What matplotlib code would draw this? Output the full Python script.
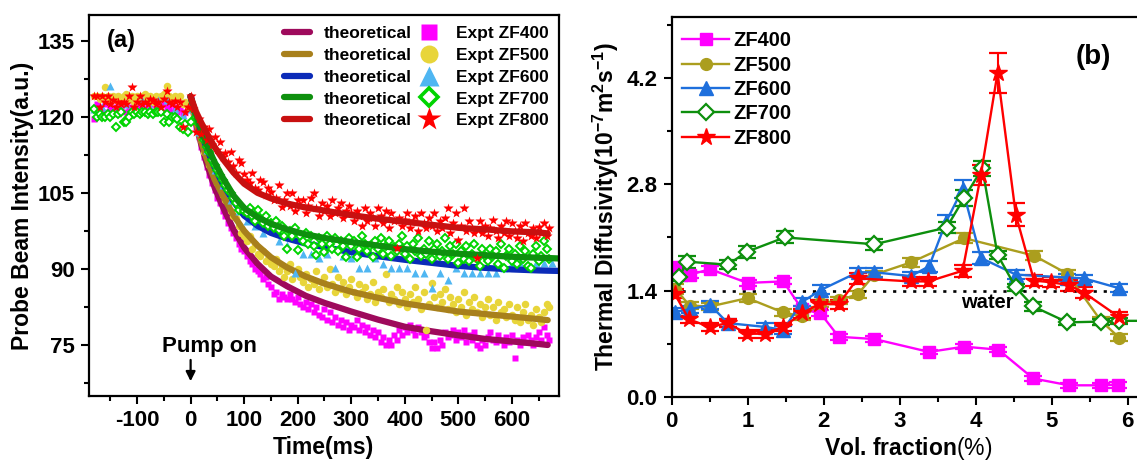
import numpy as np
import matplotlib
matplotlib.use('Agg')
import matplotlib.pyplot as plt
from matplotlib.lines import Line2D
from matplotlib.ticker import MultipleLocator, FormatStrFormatter

plt.rcParams['font.family'] = ['Liberation Sans', 'DejaVu Sans']
plt.rcParams['font.weight'] = 'bold'
plt.rcParams['axes.labelweight'] = 'bold'
plt.rcParams['axes.unicode_minus'] = False
plt.rcParams['mathtext.fontset'] = 'custom'
plt.rcParams['mathtext.rm'] = 'Liberation Sans:weight=bold'
plt.rcParams['mathtext.bf'] = 'Liberation Sans:weight=bold'
plt.rcParams['mathtext.sf'] = 'Liberation Sans:weight=normal'

# ---------------- panel (a): probe beam intensity vs time ----------------
# experimental points, sampled every 5 ms starting at -180 ms
exp_t0 = -180
exp_dt = 5
# ZF600 triangles are sparser in the picture
exp_dt_600 = 15

expt_400 = [119.5, 122.5, 122, 121, 122.5, 121, 122, 121.5, 122, 120.5,
            121.5, 122.5, 121, 122, 121.5, 122.5, 121, 122, 122.5, 121.5,
            122, 121, 122.5, 121.5, 122, 121, 122.5, 121.5, 122, 121,
            122, 121, 121.5, 120.5, 121, 122, 123.5,
            121, 118, 116, 114, 112, 110, 108.5, 107, 105.5, 104,
            103, 101.5, 100.5, 99, 98, 97, 96, 95, 94, 93.5,
            92.5, 91.5, 91, 90, 89.5, 89, 88, 88.5, 87, 86.5,
            85, 85.5, 84, 85, 84.5, 84, 85, 84, 83.5, 84.5,
            83, 82.5, 83.5, 82, 83, 81.5, 82.5, 81, 80.5, 82,
            80, 81.5, 79.5, 80.5, 79, 80, 78.5, 79.5, 78, 79,
            78.5, 80, 78, 79, 77.5, 78.5, 77, 78, 76.5, 77.5,
            75.5, 76.5, 75, 76, 75, 77, 76, 78, 77, 78.5,
            77.5, 79, 78, 77, 78.5, 77.5, 76.5, 77, 75.5, 74.5,
            75.5, 74.5, 76, 75, 77.5, 76.5, 77, 78, 76, 77.5,
            76.5, 78, 75.5, 77, 76, 77.5, 75, 74.5, 76, 75,
            76.5, 77.5, 76, 75.5, 77, 76, 75, 76.5, 75.5, 77,
            72.5, 76, 75, 76.5, 75.5, 77, 76, 75, 76.5, 77.5,
            76, 78.5, 77, 76]

expt_500 = [124, 124, 123.5, 124, 125.8, 124, 123, 124, 123.5, 124,
            123, 124, 124.5, 123.5, 124, 123, 124, 123.5, 124, 124.5,
            123.5, 124, 123, 124, 123.5, 124, 124.5, 126, 124, 123.5,
            124, 123.5, 124, 122.5, 123, 122, 121.5,
            121, 119.5, 117, 115.5, 113, 112, 110.5, 109.5, 108, 107,
            106, 104.5, 103.5, 103, 101.5, 100.5, 100, 98.5, 97, 96.5,
            95.5, 96.5, 94, 95, 93, 92.5, 93.5, 91.5, 92, 91,
            90.5, 92, 89.5, 90.5, 88.5, 89.5, 91, 88, 89.5, 90,
            88.5, 87.5, 89, 86.5, 88, 87, 89.5, 86, 87.5, 88.5,
            86.5, 90, 87, 85.5, 88.5, 86, 87.5, 85, 86.5, 88,
            85.5, 84.5, 87, 85.5, 86.5, 84, 85, 87.5, 83.5, 85.5,
            84.5, 86, 89, 83.5, 85, 84, 86.5, 83, 85.5, 84,
            82.5, 85, 83.5, 86.5, 84, 82, 85.5, 78, 83, 87.2,
            84.5, 82.5, 85, 83.5, 86, 82, 84.5, 83, 81.5, 84,
            82.5, 85.5, 81, 83.5, 82, 84.5, 81.5, 83, 80.5, 82.5,
            84, 81, 82.5, 80, 83.5, 81.5, 82, 80.5, 83, 81,
            80, 82.5, 79.5, 81.5, 83, 80, 81, 79, 82, 80.5,
            79.5, 81.5, 83, 82.5]

expt_600 = [121.5, 122, 126, 121.5, 122.5, 121.5, 123.3, 122, 123.3, 123.3,
            121.5, 120.3, 121.5, 117, 113.5, 109.5, 106.5, 103.5, 101.5, 99.5,
            98.5, 97, 97.7, 95.5, 94.7, 89.1, 93, 93, 92.1, 93,
            90.1, 92.5, 92.1, 90.1, 90.1, 92.1, 91, 90.1, 90.1, 90.1,
            89.1, 89.1, 86.2, 89.1, 87.8, 90.1, 89.1, 89.1, 89.1, 89.1,
            89.1, 90.1, 91.1, 91.1, 90.1, 91.1, 91.1, 91.1]

expt_700 = [121.5, 120, 120.5, 120, 120, 120.5, 120, 120.5, 118, 120.5,
            121, 119, 119, 120, 121, 120.5, 121, 120.5, 121, 121,
            120.5, 121, 120.5, 121, 121, 121, 119, 120.5, 119, 120,
            120, 119.5, 118, 117.5, 118.5, 117, 119,
            121.5, 120, 118.5, 117, 115.5, 114, 113, 111.5, 110.5, 109.5,
            108.5, 107.5, 106.5, 105.6, 105, 104, 103, 101.6, 102.5, 101.5,
            101, 102, 100.5, 99.5, 101.6, 100, 99, 100.5, 98.5, 99,
            98, 99.5, 97.7, 98.5, 96.5, 94, 97.5, 96.5, 98, 93.7,
            96.5, 95.5, 97, 95, 96.5, 94.5, 92.8, 96, 95, 93.4,
            96.5, 95, 94, 96, 93.5, 95.5, 94.5, 92.4, 96, 94.5,
            95.5, 92.4, 94, 96.5, 95, 93.5, 94.5, 92.4, 95.5, 94,
            96, 93, 94.5, 95.5, 92.5, 94.4, 93.5, 95, 96.5, 93,
            94.5, 92, 95, 93.5, 96, 92.5, 94, 93, 95.5, 92,
            94, 95, 92.5, 93.5, 96, 92, 94.5, 93, 95, 91.1,
            93.5, 92, 94.5, 91.5, 93, 95, 92, 90.5, 94, 92.5,
            91.5, 94, 92.5, 93.5, 91, 95, 90.1, 92.5, 94, 91.5,
            93, 91, 94.5, 92, 93.5, 90.5, 90.1, 93, 94.5, 91.5,
            92.5, 95.5, 94, 92]

expt_800 = [124, 124, 122, 124, 123, 124, 122.5, 123.4, 122, 123,
            122.5, 123, 122.5, 124, 125.9, 122, 123, 124, 122.5, 123,
            122.5, 123.5, 123.3, 122.5, 123, 122, 123.5, 125.1, 123, 122.5,
            123.2, 122, 123, 118, 121, 122, 124,
            121.5, 117, 119.5, 116.7, 118, 115.5, 117.5, 114.5, 116, 113.5,
            115, 112, 112.8, 111, 113, 110.2, 109, 111.5, 110.8, 108.8,
            107.5, 106.9, 109, 106, 105.5, 107.5, 107.2, 104.5, 106, 105.2,
            103.5, 104, 106.5, 102.3, 103.5, 104.9, 102.5, 104.9, 101.5, 103.5,
            102.5, 103.6, 101, 102.5, 104, 104.9, 102, 100.5, 103, 101.5,
            102.5, 100.5, 103.5, 101, 102, 103, 100, 101.5, 102.5, 101,
            99.5, 101.5, 100.5, 98.5, 102, 99.5, 101, 100, 98.5, 102,
            100.5, 99, 101.5, 98, 101, 99.5, 94.1, 100, 98.5, 99.7,
            101, 98, 99.5, 100.5, 97.5, 101.1, 99, 98, 100, 98.5,
            101, 97.5, 99.5, 98, 100, 102, 97, 99, 101, 95.7,
            98.5, 102, 97.5, 99.5, 98, 97, 92.1, 99.5, 97, 98.5,
            96.5, 98, 99.7, 97.5, 96, 98.5, 97, 99.5, 96.5, 99,
            97.5, 96, 98.5, 95.5, 99, 97, 96.5, 98, 96, 98.3,
            97, 99, 96.5, 98]

# theoretical curves
fit_t = [0, 10, 20, 30, 45, 60, 80, 100, 125, 150, 180, 215, 250, 300,
         350, 400, 450, 500, 550, 600, 650, 667, 690]
fit_400 = [124, 118.7, 114.5, 110.8, 106.0, 102.3, 97.8, 94.2, 91.0, 88.5, 86.6, 84.7,
           83.3, 81.6, 80.0, 78.6, 77.7, 76.9, 76.2, 75.7, 75.2, 75.0, np.nan]
fit_500 = [124, 119.0, 115.0, 111.8, 107.6, 104.5, 100.6, 97.5, 94.6, 92.3, 90.3, 88.5,
           87.1, 85.5, 84.3, 83.2, 82.4, 81.6, 81.1, 80.6, 80.1, 79.9, np.nan]
fit_600 = [124, 120.2, 116.8, 113.8, 110.0, 106.8, 103.3, 100.5, 98.5, 97.1, 96.0, 95.0,
           94.3, 93.3, 92.5, 91.8, 91.2, 90.6, 90.2, 89.9, 89.7, 89.65, 89.6]
fit_700 = [124, 120.5, 117.3, 114.5, 111.0, 108.0, 104.5, 102.0, 100.2, 98.9, 97.8, 96.8,
           96.1, 95.3, 94.6, 93.9, 93.4, 93.0, 92.7, 92.4, 92.2, 92.15, 92.05]
fit_800 = [124, 121.0, 118.8, 116.8, 114.0, 111.7, 109.0, 106.8, 105.0, 103.9, 102.9, 102.1,
           101.5, 100.6, 99.9, 99.3, 98.7, 98.1, 97.8, 97.4, 97.2, 97.0, np.nan]

# ---------------- panel (b): thermal diffusivity vs volume fraction ----------------
vf_400 = [0.05, 0.24, 0.51, 1.00, 1.47, 1.72, 1.96, 2.20, 2.67, 3.39, 3.85, 4.30, 4.76, 5.23, 5.65, 5.87]
td_400 = [1.71, 1.61, 1.68, 1.50, 1.52, 1.15, 1.10, 0.79, 0.76, 0.59, 0.66, 0.62, 0.24, 0.15, 0.15, 0.16]
err_400 = [0.05, 0.04, 0.04, 0.04, 0.04, 0.04, 0.04, 0.04, 0.04, 0.03, 0.03, 0.03, 0.03, 0.03, 0.03, 0.04]

vf_500 = [0.05, 0.24, 0.51, 1.00, 1.47, 1.72, 1.96, 2.20, 2.45, 2.67, 3.15, 3.85, 4.77, 5.21, 5.65, 5.89]
td_500 = [1.42, 1.20, 1.19, 1.30, 1.11, 1.06, 1.23, 1.27, 1.35, 1.61, 1.77, 2.09, 1.86, 1.62, 1.00, 0.78]
err_500 = [0.06, 0.05, 0.05, 0.05, 0.05, 0.05, 0.05, 0.05, 0.05, 0.05, 0.06, 0.07, 0.06, 0.05, 0.05, 0.04]

vf_600 = [0.05, 0.24, 0.51, 0.74, 1.23, 1.47, 1.72, 1.97, 2.45, 2.67, 3.15, 3.39, 3.61, 3.83, 4.07,
          4.53, 5.21, 5.43, 5.89]
td_600 = [1.12, 1.15, 1.21, 0.97, 0.92, 0.88, 1.25, 1.41, 1.64, 1.64, 1.59, 1.72, 2.30, 2.74, 1.83,
          1.61, 1.57, 1.56, 1.43]
err_600 = [0.05, 0.05, 0.05, 0.05, 0.05, 0.05, 0.05, 0.06, 0.06, 0.06, 0.06, 0.07, 0.09, 0.12, 0.08,
           0.06, 0.05, 0.05, 0.05]

vf_700 = [0.10, 0.21, 0.74, 0.99, 1.49, 2.67, 3.62, 3.85, 4.09, 4.29, 4.53, 4.76, 5.21, 5.65, 5.89, 6.30]
td_700 = [1.58, 1.78, 1.74, 1.91, 2.10, 2.01, 2.23, 2.62, 3.01, 1.87, 1.44, 1.19, 0.98, 0.99, 1.00, 1.00]
err_700 = [0.06, 0.08, 0.06, 0.08, 0.08, 0.07, 0.07, 0.10, 0.10, 0.05, 0.05, 0.06, 0.04, 0.04, 0.04, 0.04]

vf_800 = [0.04, 0.23, 0.50, 0.74, 0.99, 1.23, 1.47, 1.72, 1.94, 2.20, 2.45, 3.15, 3.38, 3.83, 4.07,
          4.29, 4.53, 4.77, 4.99, 5.23, 5.43, 5.89]
td_800 = [1.36, 1.02, 0.92, 0.97, 0.83, 0.83, 0.92, 1.10, 1.22, 1.22, 1.56, 1.52, 1.52, 1.66, 2.92,
          4.27, 2.40, 1.53, 1.51, 1.47, 1.37, 1.05]
err_800 = [0.06, 0.05, 0.05, 0.05, 0.05, 0.05, 0.05, 0.06, 0.06, 0.06, 0.07, 0.06, 0.06, 0.08, 0.13,
           0.26, 0.15, 0.07, 0.07, 0.07, 0.07, 0.07]

water_td = 1.4
water_span = [0, 5.94]

labels_b = ['ZF400', 'ZF500', 'ZF600', 'ZF700', 'ZF800']

fig = plt.figure(figsize=(11.37, 4.61), dpi=100)
ax_a = fig.add_axes([0.0779, 0.141, 0.4137, 0.8265])
ax_b = fig.add_axes([0.5906, 0.1395, 0.4211, 0.8243])

# ---- panel (a) ----
expt_sets = [
    (expt_400, exp_dt, fit_400, dict(marker='s', ms=4.8, color='#ff00ff', mec='none'), '#9e0a5c', 'Expt ZF400'),
    (expt_500, exp_dt, fit_500, dict(marker='o', ms=5.4, color='#e8d53a', mec='none'), '#a8801c', 'Expt ZF500'),
    (expt_600, exp_dt_600, fit_600, dict(marker='^', ms=6.0, color='#4fb6f2', mec='none'), '#0b2bb8', 'Expt ZF600'),
    (expt_700, exp_dt, fit_700, dict(marker='D', ms=3.9, mfc='white', mec='#00d400', mew=1.4), '#0e900e', 'Expt ZF700'),
    (expt_800, exp_dt, fit_800, dict(marker='*', ms=7.3, color='#ff0000', mec='none'), '#c81010', 'Expt ZF800'),
]

line_handles = []
marker_handles = []
for vals, dt, fit, mstyle, lcolor, lab in expt_sets:
    t = exp_t0 + dt * np.arange(len(vals))
    ax_a.plot(t, vals, ls='none', **mstyle)
    ax_a.plot(fit_t, fit, color=lcolor, lw=4.5, solid_capstyle='round')
    line_handles.append(Line2D([], [], color=lcolor, lw=4.5, solid_capstyle='round'))
    big = dict(mstyle)
    big['ms'] = mstyle['ms'] * 2.4
    if 'mew' in big:
        big['mew'] = 2.6
    marker_handles.append(Line2D([], [], ls='none', **big))

ax_a.legend(line_handles + marker_handles, ['theoretical'] * 5 + [s[5] for s in expt_sets],
            ncol=2, loc='upper right', bbox_to_anchor=(0.978, 0.972), frameon=False,
            fontsize=12.5, handlelength=1.45, handletextpad=0.8, columnspacing=0.3,
            labelspacing=0.39, borderpad=0, borderaxespad=0)

ax_a.set_xlim(-190.6, 688)
ax_a.set_ylim(64.94, 140.07)
ax_a.xaxis.set_major_locator(MultipleLocator(100))
ax_a.xaxis.set_minor_locator(MultipleLocator(50))
ax_a.yaxis.set_major_locator(MultipleLocator(15))
ax_a.yaxis.set_minor_locator(MultipleLocator(7.5))
ax_a.set_xlabel('Time(ms)', fontsize=16.5, fontweight='bold')
ax_a.set_ylabel('Probe Beam Intensity(a.u.)', fontsize=16.5, fontweight='bold')
ax_a.xaxis.set_label_coords(0.5, -0.105)
ax_a.yaxis.set_label_coords(-0.116, 0.5)
ax_a.text(0.039, 0.932, '(a)', transform=ax_a.transAxes, fontsize=17, ha='left', va='center')
ax_a.text(35, 73.66, 'Pump on', fontsize=16, ha='center', va='baseline')
ax_a.annotate('', xy=(0, 67.3), xytext=(0, 72.6),
              arrowprops=dict(arrowstyle='-|>', color='black', lw=1.6, mutation_scale=14))

# ---- panel (b) ----
series_b = [
    (vf_400, td_400, err_400, '#ff00ff', dict(marker='s', ms=8, mec='#ff00ff')),
    (vf_500, td_500, err_500, '#ab9e1e', dict(marker='o', ms=8.5, mec='#ab9e1e')),
    (vf_600, td_600, err_600, '#1e6fdc', dict(marker='^', ms=10.5, mec='#1e6fdc')),
    (vf_700, td_700, err_700, '#0d8f0d', dict(marker='D', ms=8, mfc='white', mec='#0d8f0d', mew=1.6)),
    (vf_800, td_800, err_800, '#ff0000', dict(marker='*', ms=13, mec='#ff0000')),
]

handles_b = []
for vf, td, err, col, mk in series_b:
    ax_b.errorbar(vf, td, yerr=err, color=col, lw=1.7, elinewidth=1.5, capsize=6.5,
                  capthick=1.6, **mk)
    handles_b.append(Line2D([], [], color=col, lw=1.7, **mk))

ax_b.plot(water_span, [water_td, water_td], color='black', lw=1.9, ls=(0, (1.2, 2.6)))
ax_b.text(4.16, 1.17, 'water', fontsize=14.5, ha='center', va='baseline')
ax_b.text(0.880, 0.895, '(b)', transform=ax_b.transAxes, fontsize=20, ha='center', va='center')

ax_b.legend(handles_b, labels_b, loc='upper left', bbox_to_anchor=(0.022, 0.962), frameon=False,
            fontsize=14.5, handlelength=2.35, handletextpad=0.2, labelspacing=0.27,
            borderpad=0, borderaxespad=0)

ax_b.set_xlim(0, 6.3)
ax_b.set_ylim(0, 5.01)
ax_b.xaxis.set_major_locator(MultipleLocator(1))
ax_b.xaxis.set_minor_locator(MultipleLocator(0.5))
ax_b.yaxis.set_major_locator(MultipleLocator(1.4))
ax_b.yaxis.set_minor_locator(MultipleLocator(0.7))
ax_b.yaxis.set_major_formatter(FormatStrFormatter('%.1f'))
ax_b.set_xlabel('Vol. fraction' + r'$\mathsf{(\%)}$', fontsize=16.5, fontweight='bold')
ax_b.set_ylabel(r'Thermal Diffusivity(10$^{-7}$m$^{2}$s$^{-1}$)', fontsize=16.5, fontweight='bold')
ax_b.xaxis.set_label_coords(0.495, -0.1)
ax_b.yaxis.set_label_coords(-0.105, 0.5)

for ax in (ax_a, ax_b):
    for sp in ax.spines.values():
        sp.set_linewidth(1.6)
    ax.tick_params(which='both', direction='out', width=1.5, top=False, right=False,
                   labelsize=16, pad=4)
    ax.tick_params(which='major', length=6)
    ax.tick_params(which='minor', length=3.5)

fig.savefig('out.png', dpi=100)
